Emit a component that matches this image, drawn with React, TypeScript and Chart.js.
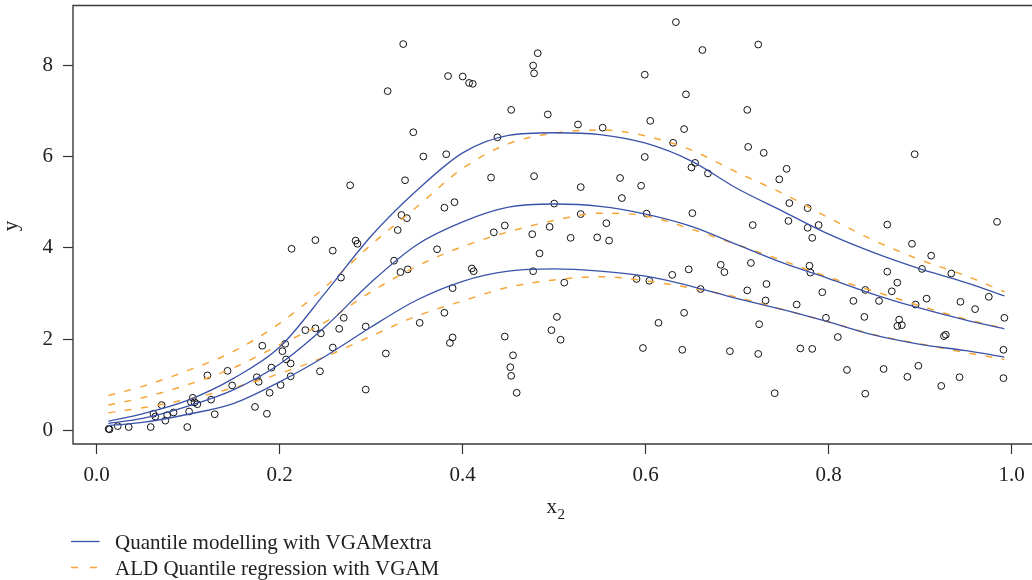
import { useEffect, useRef } from "react";
import { Chart, registerables } from "chart.js";

Chart.register(...registerables);

const FONT = "'Liberation Serif', 'Times New Roman', serif";
const BLUE = "#3a52a8";
const ORANGE = "#f6a636";

// Observed data (x2, y)
const scatterX = [
  0.213, 0.228, 0.181, 0.206, 0.203, 0.207, 0.212, 0.212, 0.201, 0.191, 0.189, 0.186, 0.173, 0.175, 0.177, 0.148, 0.143, 0.121, 0.125, 0.129,
  0.105, 0.103, 0.107, 0.110, 0.101, 0.099, 0.071, 0.062, 0.064, 0.077, 0.084, 0.075, 0.059, 0.035, 0.023, 0.013, 0.014,
  0.239, 0.258, 0.283, 0.285, 0.329, 0.372, 0.325, 0.332, 0.340, 0.267, 0.410, 0.412, 0.434, 0.446, 0.476, 0.495, 0.484, 0.477, 0.389, 0.380,
  0.353, 0.270, 0.239, 0.245, 0.265, 0.294, 0.258, 0.244, 0.316, 0.294, 0.389, 0.386, 0.446, 0.455, 0.452, 0.453, 0.459,
  0.335, 0.318, 0.384, 0.400, 0.407, 0.411, 0.482, 0.477, 0.478, 0.453, 0.493, 0.346, 0.438, 0.357, 0.382, 0.277, 0.337, 0.431, 0.478, 0.391,
  0.380, 0.333, 0.339,
  0.633, 0.662, 0.723, 0.599, 0.644, 0.711, 0.526, 0.553, 0.605, 0.642, 0.630, 0.712, 0.729, 0.599, 0.654, 0.650, 0.668, 0.754, 0.746, 0.572,
  0.529, 0.595, 0.574, 0.500, 0.757, 0.529, 0.601, 0.651, 0.557, 0.756, 0.717,
  0.518, 0.547, 0.560, 0.715, 0.682, 0.686, 0.647, 0.629, 0.590, 0.604, 0.511, 0.660, 0.711, 0.732, 0.731, 0.642, 0.614, 0.724, 0.503, 0.497,
  0.507, 0.597, 0.640, 0.692, 0.723, 0.741,
  0.894, 0.777,
  0.777, 0.789, 0.782, 0.864, 0.984, 0.891, 0.912, 0.902, 0.934, 0.864, 0.779, 0.780, 0.875, 0.869, 0.793, 0.840, 0.827, 0.855, 0.907, 0.895,
  0.944, 0.975, 0.960, 0.765, 0.992, 0.797, 0.839, 0.877, 0.875, 0.880, 0.810, 0.928, 0.926, 0.769, 0.782, 0.991, 0.820, 0.860, 0.898, 0.886,
  0.943, 0.923, 0.991, 0.840,
];
const scatterY = [
  3.98, 2.20, 1.86, 1.90, 1.74, 1.56, 1.47, 1.19, 1.00, 1.38, 0.83, 0.37, 0.52, 1.17, 1.07, 0.99, 1.31, 1.21, 0.68, 0.36,
  0.72, 0.63, 0.62, 0.58, 0.42, 0.08, 0.56, 0.37, 0.31, 0.34, 0.40, 0.22, 0.08, 0.08, 0.10, 0.04, 0.03,
  4.17, 3.94, 4.16, 4.09, 4.39, 3.97, 3.72, 3.47, 3.53, 3.35, 3.55, 3.49, 4.34, 4.49, 4.30, 4.46, 3.88, 3.49, 3.12, 2.58,
  2.36, 2.47, 2.24, 2.13, 2.23, 2.28, 1.82, 1.30, 1.69, 0.90, 2.04, 1.92, 2.06, 1.65, 1.39, 1.20, 0.83,
  8.46, 7.43, 7.76, 7.75, 7.61, 7.59, 8.26, 7.99, 7.82, 7.02, 6.92, 6.53, 6.42, 6.00, 6.05, 5.37, 5.48, 5.54, 5.57, 5.00,
  4.88, 4.72, 4.65,
  8.94, 8.33, 8.45, 7.79, 7.36, 7.02, 6.70, 6.63, 6.78, 6.60, 6.30, 6.21, 6.08, 5.99, 5.86, 5.76, 5.63, 5.73, 5.50, 5.53,
  5.33, 5.36, 5.09, 4.97, 4.98, 4.74, 4.75, 4.76, 4.54, 4.59, 4.50,
  4.22, 4.23, 4.16, 3.67, 3.63, 3.47, 3.53, 3.41, 3.32, 3.28, 3.24, 3.10, 3.07, 3.21, 2.85, 2.58, 2.36, 2.33, 2.49, 2.20,
  1.99, 1.81, 1.77, 1.74, 1.68, 0.82,
  6.05, 4.87,
  4.44, 4.50, 4.22, 4.51, 4.57, 4.09, 3.83, 3.54, 3.44, 3.48, 3.61, 3.46, 3.24, 3.05, 3.03, 3.08, 2.84, 2.84, 2.89, 2.76,
  2.82, 2.93, 2.66, 2.76, 2.47, 2.47, 2.49, 2.43, 2.29, 2.31, 2.05, 2.10, 2.07, 1.80, 1.79, 1.77, 1.33, 1.35, 1.42, 1.18,
  1.17, 0.98, 1.15, 0.81,
];

// Fitted quantile curves, read at these x2 values
const curveX = [0.0127, 0.05, 0.1, 0.15, 0.2, 0.25, 0.3, 0.35, 0.4, 0.45, 0.5, 0.55, 0.6, 0.65, 0.7, 0.75, 0.8, 0.85, 0.9, 0.95, 0.992];
const vgamExtraHigh = [0.21, 0.37, 0.67, 1.15, 1.83, 3.02, 4.26, 5.26, 6.08, 6.46, 6.52, 6.48, 6.29, 5.90, 5.30, 4.80, 4.30, 3.89, 3.54, 3.24, 2.95];
const vgamExtraMid = [0.16, 0.27, 0.54, 0.90, 1.46, 2.28, 3.25, 4.07, 4.57, 4.89, 4.96, 4.91, 4.74, 4.47, 4.07, 3.67, 3.33, 2.98, 2.68, 2.42, 2.23];
const vgamExtraLow = [0.11, 0.18, 0.36, 0.60, 1.07, 1.63, 2.27, 2.86, 3.27, 3.49, 3.54, 3.49, 3.38, 3.16, 2.89, 2.65, 2.38, 2.09, 1.89, 1.75, 1.61];
const aldHigh = [0.77, 0.97, 1.32, 1.74, 2.35, 3.15, 4.07, 4.90, 5.74, 6.28, 6.51, 6.58, 6.45, 6.14, 5.65, 5.19, 4.66, 4.16, 3.74, 3.39, 3.04];
const aldMid = [0.56, 0.72, 1.01, 1.38, 1.88, 2.38, 3.04, 3.60, 4.03, 4.35, 4.60, 4.76, 4.70, 4.41, 4.07, 3.72, 3.36, 3.05, 2.73, 2.44, 2.24];
const aldLow = [0.39, 0.50, 0.69, 0.94, 1.25, 1.62, 2.07, 2.51, 2.84, 3.14, 3.30, 3.37, 3.28, 3.12, 2.92, 2.65, 2.38, 2.10, 1.90, 1.71, 1.56];

const xTicks = [0, 0.2, 0.4, 0.6, 0.8, 1.0];
const yTicks = [0, 2, 4, 6, 8];
const legendLabels = ["Quantile modelling with VGAMextra", "ALD Quantile regression with VGAM"];
const xTitle = "x";
const xTitleSub = "2";
const yTitle = "y";

const decor = {
  id: "decor",
  afterDraw(chart: any) {
    const { ctx, chartArea: a } = chart;
    const W = chart.width;
    ctx.save();
    // frame (right side is cut off by the image edge)
    ctx.strokeStyle = "#3a3a3a";
    ctx.lineWidth = 1.4;
    ctx.beginPath();
    ctx.moveTo(W, a.top);
    ctx.lineTo(a.left, a.top);
    ctx.lineTo(a.left, a.bottom);
    ctx.lineTo(W, a.bottom);
    ctx.stroke();

    ctx.fillStyle = "#222";
    // x axis title with subscript
    ctx.textAlign = "left";
    ctx.textBaseline = "alphabetic";
    ctx.font = `21px ${FONT}`;
    ctx.fillText(xTitle, 546.5, 513);
    const xw = ctx.measureText(xTitle).width;
    ctx.font = `15px ${FONT}`;
    ctx.fillText(xTitleSub, 546.5 + xw + 0.5, 518.5);

    // y axis title
    ctx.save();
    ctx.translate(16.5, 226);
    ctx.rotate(-Math.PI / 2);
    ctx.textAlign = "center";
    ctx.font = `21px ${FONT}`;
    ctx.fillText(yTitle, 0, 0);
    ctx.restore();

    // legend
    ctx.lineWidth = 1.3;
    ctx.strokeStyle = BLUE;
    ctx.setLineDash([]);
    ctx.beginPath();
    ctx.moveTo(71, 541.5);
    ctx.lineTo(99.5, 541.5);
    ctx.stroke();
    ctx.strokeStyle = ORANGE;
    ctx.lineWidth = 1.5;
    ctx.setLineDash([7, 12]);
    ctx.beginPath();
    ctx.moveTo(71, 567.5);
    ctx.lineTo(99.5, 567.5);
    ctx.stroke();
    ctx.setLineDash([]);
    ctx.fillStyle = "#222";
    ctx.font = `21px ${FONT}`;
    ctx.textAlign = "left";
    ctx.fillText(legendLabels[0], 115, 549);
    ctx.fillText(legendLabels[1], 115, 574.5);
    ctx.restore();
  },
};

function curve(ys: number[]) {
  return curveX.map((x, i) => ({ x, y: ys[i] }));
}

export default function App() {
  const ref = useRef<HTMLCanvasElement | null>(null);

  useEffect(() => {
    if (!ref.current) return;
    const solid = (ys: number[]) => ({
      type: "scatter" as const,
      data: curve(ys),
      showLine: true,
      borderColor: BLUE,
      backgroundColor: BLUE,
      borderWidth: 1.3,
      pointRadius: 0,
      cubicInterpolationMode: "monotone" as const,
    });
    const dashed = (ys: number[]) => ({
      type: "scatter" as const,
      data: curve(ys),
      showLine: true,
      borderColor: ORANGE,
      backgroundColor: ORANGE,
      borderWidth: 1.5,
      borderDash: [7, 9.5],
      pointRadius: 0,
      cubicInterpolationMode: "monotone" as const,
    });
    const tickFont = { family: FONT, size: 21 };
    const chart = new Chart(ref.current, {
      type: "scatter",
      data: {
        datasets: [
          solid(vgamExtraHigh),
          solid(vgamExtraMid),
          solid(vgamExtraLow),
          dashed(aldHigh),
          dashed(aldMid),
          dashed(aldLow),
          {
            type: "scatter",
            data: scatterX.map((x, i) => ({ x, y: scatterY[i] })),
            pointStyle: "circle",
            pointRadius: 3.4,
            pointBorderWidth: 1,
            pointBorderColor: "#111",
            pointBackgroundColor: "rgba(0,0,0,0)",
            borderColor: "#111",
            backgroundColor: "rgba(0,0,0,0)",
            showLine: false,
          } as any,
        ],
      },
      options: {
        animation: false,
        responsive: false,
        devicePixelRatio: 1,
        events: [],
        layout: { autoPadding: false, padding: { top: 5.5, right: 0, left: 0, bottom: 0 } },
        plugins: { legend: { display: false }, tooltip: { enabled: false } },
        scales: {
          x: {
            type: "linear",
            min: -0.0259,
            max: 1.0222,
            afterBuildTicks: (s: any) => {
              s.ticks = xTicks.map((v) => ({ value: v }));
            },
            afterFit: (s: any) => {
              s.height = 136;
              s.paddingLeft = 0;
              s.paddingRight = 0;
            },
            ticks: {
              callback: (v: any) => Number(v).toFixed(1),
              font: tickFont,
              color: "#222",
              padding: 9,
              maxRotation: 0,
              autoSkip: false,
            },
            grid: { drawOnChartArea: false, drawTicks: true, tickLength: 10, tickColor: "#333", tickWidth: 1.2 },
            border: { display: false },
          },
          y: {
            type: "linear",
            min: -0.291,
            max: 9.304,
            afterBuildTicks: (s: any) => {
              s.ticks = yTicks.map((v) => ({ value: v }));
            },
            afterFit: (s: any) => {
              s.width = 73;
              s.paddingTop = 0;
              s.paddingBottom = 0;
            },
            ticks: {
              callback: (v: any) => String(v),
              font: tickFont,
              color: "#222",
              padding: 10,
              autoSkip: false,
            },
            grid: { drawOnChartArea: false, drawTicks: true, tickLength: 10, tickColor: "#333", tickWidth: 1.2 },
            border: { display: false },
          },
        },
      },
      plugins: [decor],
    } as any);
    return () => chart.destroy();
  }, []);

  return (
    <div style={{ position: "absolute", left: 0, top: 0, width: 1032, height: 580, background: "#fff" }}>
      <canvas ref={ref} width={1032} height={580} style={{ display: "block", width: 1032, height: 580 }} />
    </div>
  );
}
